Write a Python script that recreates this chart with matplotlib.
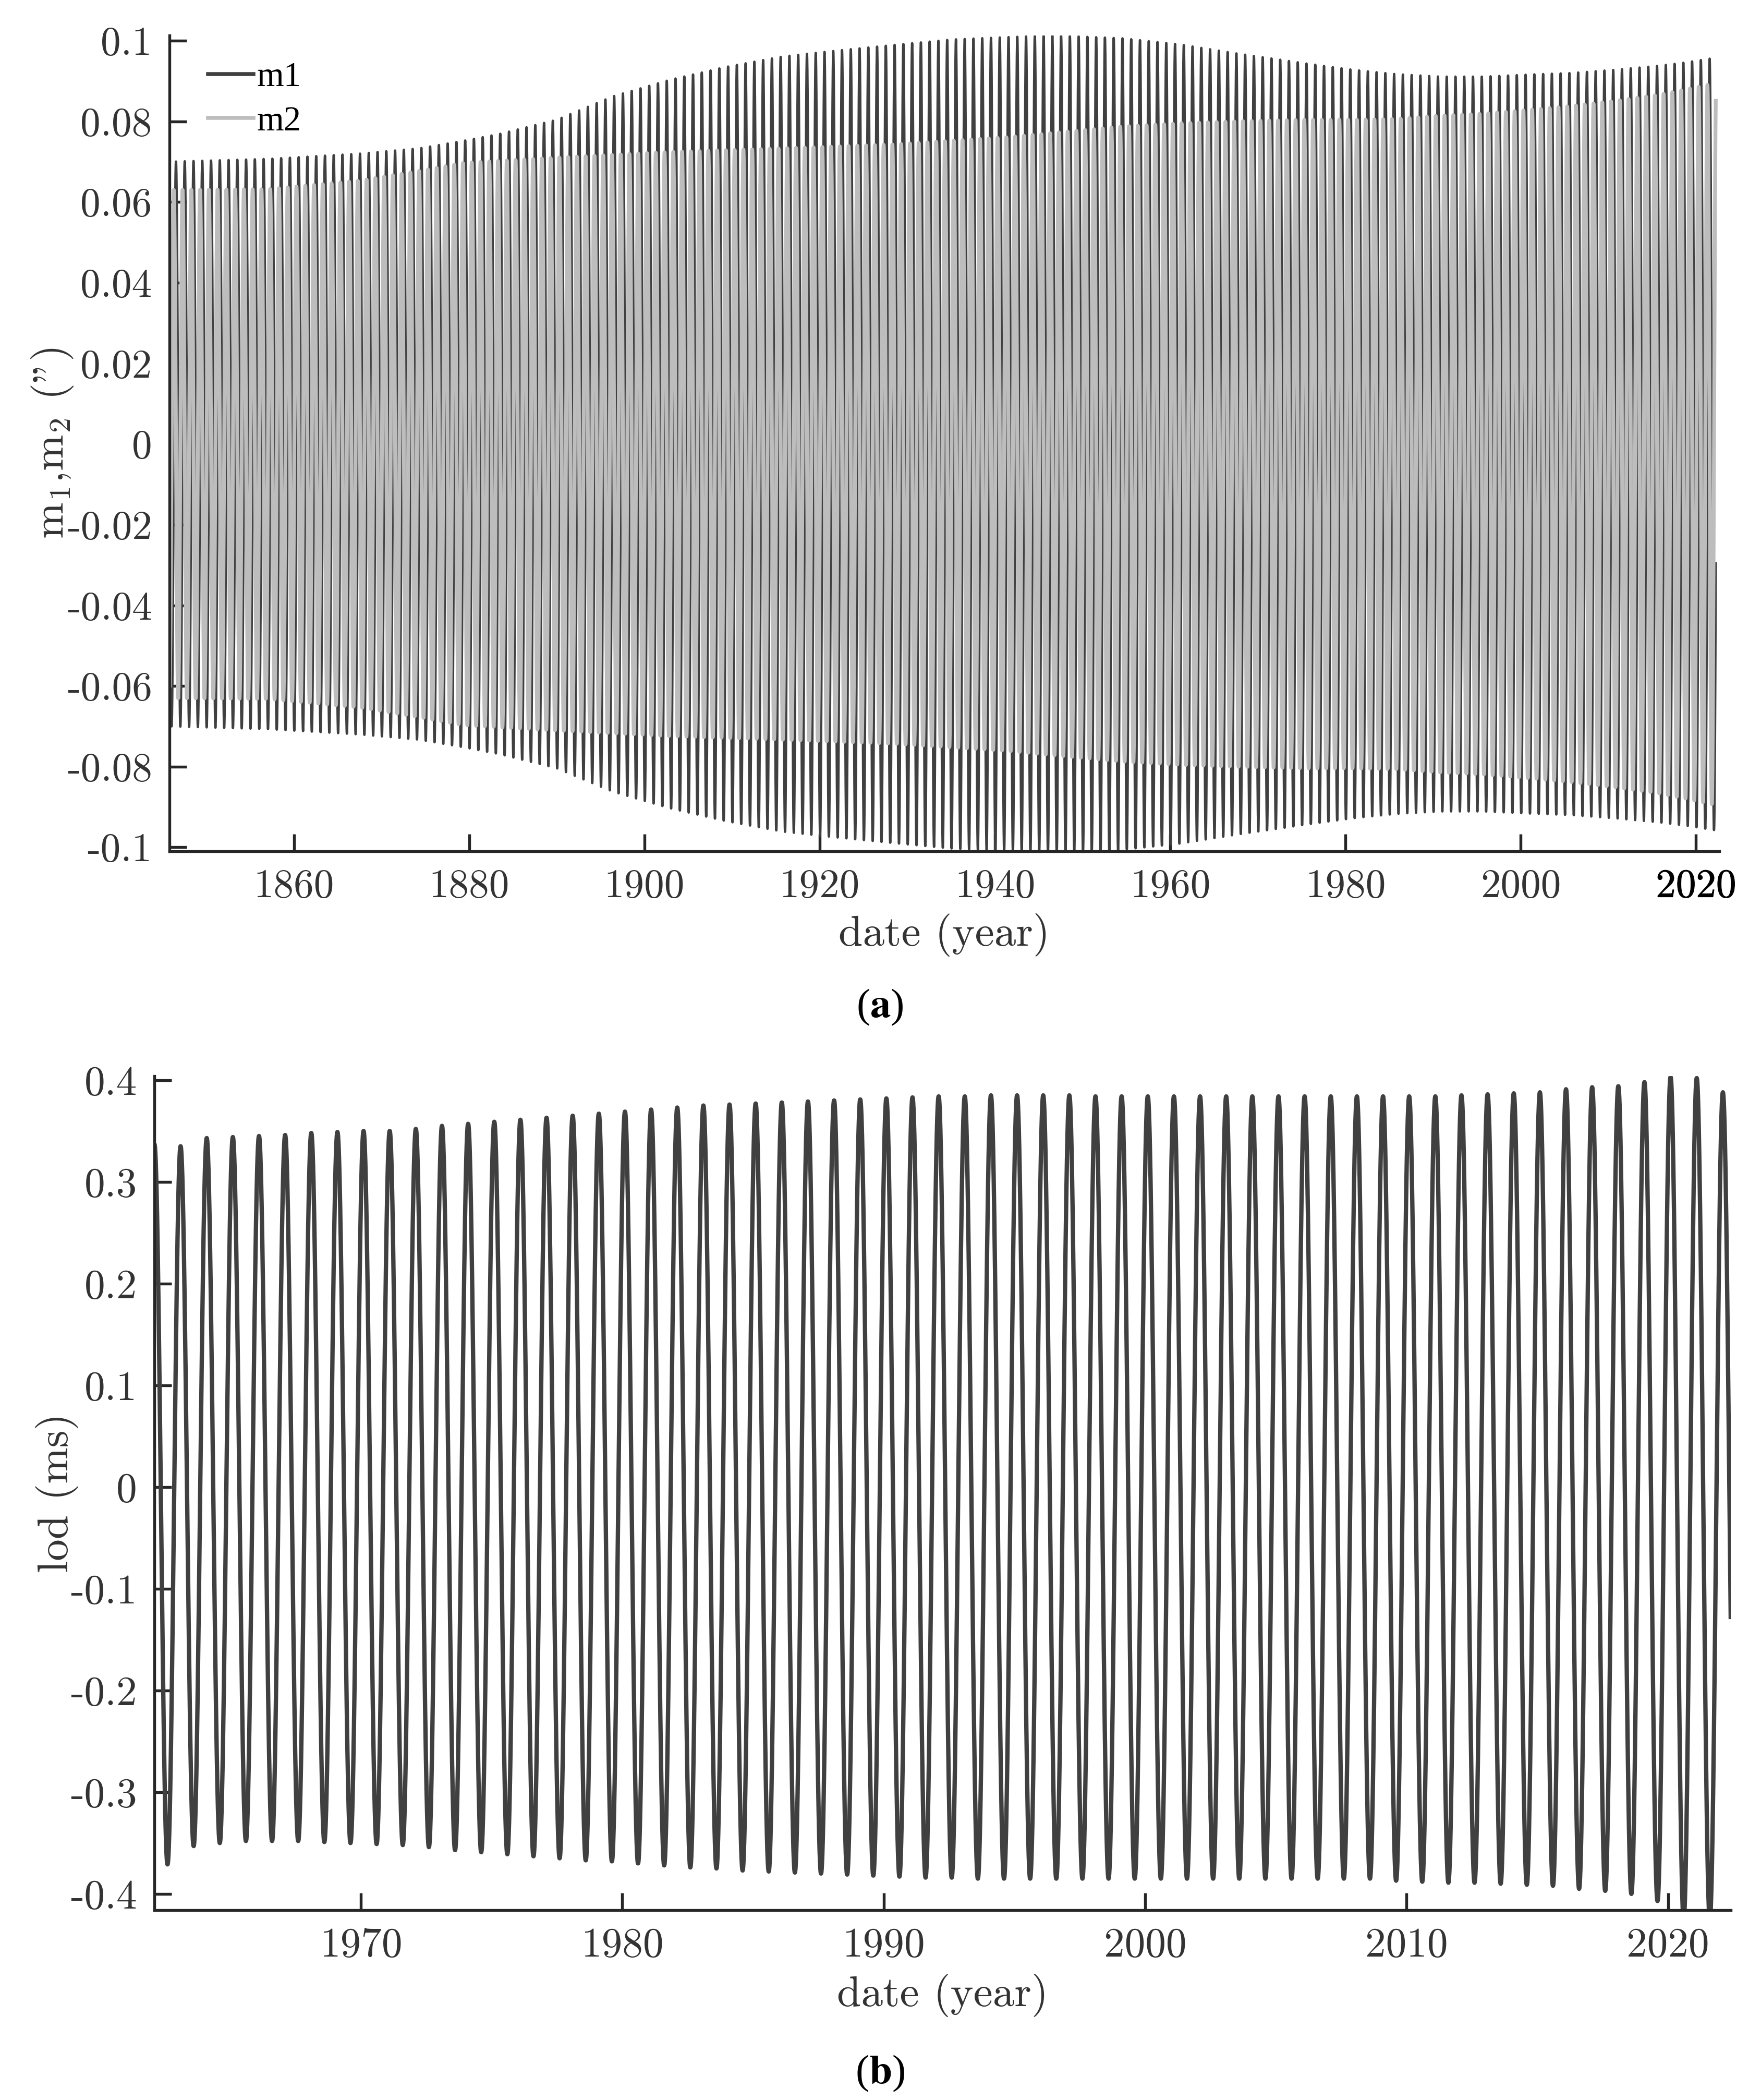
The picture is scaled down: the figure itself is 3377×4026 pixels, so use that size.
import numpy as np
import matplotlib
matplotlib.use("Agg")
import matplotlib.pyplot as plt
from matplotlib.lines import Line2D
from matplotlib import patheffects

# ---------------- data ----------------
# Panel (a): annual polar-motion term, amplitude envelopes (arcsec)
m1_env_years = [1845.85, 1857.2, 1867.5, 1874.3, 1879.4, 1883.5, 1890.0, 1896.4,
                1902.9, 1909.3, 1915.8, 1922.2, 1928.7, 1935.1, 1941.6, 1946.8,
                1954.5, 1961.0, 1967.4, 1975.7, 1980.8, 1985.8, 1990.8, 1995.8,
                2000.8, 2005.8, 2010.8, 2015.8, 2018.8, 2022.3]
m1_env_amp = [0.0700, 0.0707, 0.0720, 0.0733, 0.0752, 0.0769, 0.0804, 0.0862,
              0.0903, 0.0935, 0.0961, 0.0976, 0.0990, 0.1003, 0.1009, 0.1013,
              0.1006, 0.0991, 0.0969, 0.0943, 0.0928, 0.0917, 0.0911, 0.0911,
              0.0916, 0.0920, 0.0928, 0.0938, 0.0946, 0.0958]
m2_env_years = [1845.85, 1857.2, 1867.5, 1874.3, 1879.4, 1890.0, 1902.9, 1915.8,
                1928.7, 1941.6, 1948.0, 1954.5, 1961.0, 1967.4, 1975.7, 1980.8,
                1985.8, 1990.8, 1995.8, 2000.8, 2005.8, 2010.8, 2015.8, 2018.8,
                2022.3]
m2_env_amp = [0.0630, 0.0632, 0.0653, 0.0677, 0.0697, 0.0710, 0.0724, 0.0733,
              0.0743, 0.0761, 0.0774, 0.0787, 0.0795, 0.0800, 0.0804, 0.0804,
              0.0806, 0.0814, 0.0819, 0.0828, 0.0838, 0.0851, 0.0866, 0.0879,
              0.0895]
m_period_years = 1.0          # one cycle per year
m1_peak_phase = 0.55          # fraction of year at which m1 peaks
m2_peak_phase = 0.30          # fraction of year at which m2 peaks
m_start, m_end = 1845.85, 2022.25

# Panel (b): annual LOD term, yearly maxima (at year+0.1) and minima (at year+0.6), ms
lod_max_years = [1962.1 + k for k in range(61)]
lod_max = [0.337, 0.335, 0.343, 0.344, 0.345, 0.346, 0.348, 0.349, 0.350, 0.350,
           0.352, 0.355, 0.357, 0.359, 0.361, 0.363, 0.365, 0.367, 0.369, 0.371,
           0.373, 0.375, 0.376, 0.377, 0.378, 0.379, 0.380, 0.381, 0.382, 0.383,
           0.384, 0.384, 0.385, 0.385, 0.385, 0.385, 0.384, 0.384, 0.384, 0.384,
           0.384, 0.384, 0.384, 0.384, 0.384, 0.384, 0.384, 0.384, 0.384, 0.384,
           0.385, 0.386, 0.387, 0.388, 0.391, 0.393, 0.394, 0.398, 0.403, 0.402,
           0.388]
lod_min_years = [1962.6 + k for k in range(61)]
lod_min = [-0.371, -0.353, -0.350, -0.348, -0.348, -0.348, -0.349, -0.350, -0.351, -0.352,
           -0.354, -0.357, -0.359, -0.361, -0.363, -0.365, -0.367, -0.368, -0.370, -0.372,
           -0.374, -0.375, -0.377, -0.378, -0.379, -0.380, -0.381, -0.382, -0.383, -0.384,
           -0.384, -0.385, -0.385, -0.385, -0.385, -0.385, -0.385, -0.385, -0.385, -0.385,
           -0.385, -0.385, -0.385, -0.385, -0.385, -0.385, -0.385, -0.387, -0.388, -0.389,
           -0.389, -0.390, -0.391, -0.392, -0.395, -0.397, -0.400, -0.407, -0.425, -0.425,
           -0.400]
lod_start, lod_end = 1962.1, 2022.4

top_xticks = [1860, 1880, 1900, 1920, 1940, 1960, 1980, 2000, 2020]
top_yticks = [0.1, 0.08, 0.06, 0.04, 0.02, 0, -0.02, -0.04, -0.06, -0.08, -0.1]
top_yticklabels = ["0.1", "0.08", "0.06", "0.04", "0.02", "0", "-0.02", "-0.04",
                   "-0.06", "-0.08", "-0.1"]
bot_xticks = [1970, 1980, 1990, 2000, 2010, 2020]
bot_yticks = [0.4, 0.3, 0.2, 0.1, 0, -0.1, -0.2, -0.3, -0.4]
bot_yticklabels = ["0.4", "0.3", "0.2", "0.1", "0", "-0.1", "-0.2", "-0.3", "-0.4"]

# ---------------- series construction ----------------
t_m = np.arange(m_start, m_end, 1.0 / 240)
a1 = np.interp(t_m, m1_env_years, m1_env_amp)
a2 = np.interp(t_m, m2_env_years, m2_env_amp)
m1 = a1 * np.cos(2 * np.pi * (t_m - m1_peak_phase) / m_period_years)
m2 = a2 * np.cos(2 * np.pi * (t_m - m2_peak_phase) / m_period_years)

# LOD: half-cycle cosine joining successive read extremes
ext_t = np.array(sorted(list(zip(lod_max_years, lod_max)) + list(zip(lod_min_years, lod_min))))
t_l = np.arange(lod_start, lod_end, 1.0 / 240)
idx = np.clip(np.searchsorted(ext_t[:, 0], t_l, side="right") - 1, 0, len(ext_t) - 2)
t0, v0 = ext_t[idx, 0], ext_t[idx, 1]
t1, v1 = ext_t[idx + 1, 0], ext_t[idx + 1, 1]
lod = (v0 + v1) / 2 + (v0 - v1) / 2 * np.cos(np.pi * (t_l - t0) / (t1 - t0))

# ---------------- styling ----------------
plt.rcParams["font.family"] = ["cmr10", "DejaVu Serif"]
plt.rcParams["mathtext.fontset"] = "cm"
plt.rcParams["axes.unicode_minus"] = False

DARK = "#404040"
GRAY = "#bdbdbd"
AX = "#262626"
TXT = "#333333"

fig = plt.figure(figsize=(3377 / 300, 4026 / 300), dpi=300)
ax1 = fig.add_axes([0.0962, 0.5946, 0.9763 - 0.0962, 0.9831 - 0.5946])
ax2 = fig.add_axes([0.0877, 0.0904, 0.9828 - 0.0877, 0.4876 - 0.0904])

def style(ax, fs):
    for s in ("top", "right"):
        ax.spines[s].set_visible(False)
    for s in ("left", "bottom"):
        ax.spines[s].set_linewidth(1.3)
        ax.spines[s].set_color(AX)
    ax.tick_params(direction="in", length=8, width=1.3, color=AX,
                   labelsize=fs, labelcolor=TXT, pad=8)

ax1.plot(t_m, m1, color=DARK, lw=1.1, label="m1")
ax1.plot(t_m, m2, color=GRAY, lw=1.75, label="m2")
ax1.set_xlim(1845.8, 2022.65)
ax1.set_ylim(-0.1010, 0.1013)
ax1.set_xticks(top_xticks)
ax1.set_xticklabels([str(v) for v in top_xticks])
ax1.set_yticks(top_yticks)
ax1.set_yticklabels(top_yticklabels)
style(ax1, 18.5)
last = ax1.get_xticklabels()[-1]
last.set_color("black")
last.set_path_effects([patheffects.withStroke(linewidth=0.25, foreground="black")])
ax1.set_xlabel("date (year)", fontsize=20, color=TXT, labelpad=4)
ax1.set_ylabel('m$_1$,m$_2$ (")', fontsize=20, color=TXT)
ax1.yaxis.set_label_coords(-0.061, 0.5)
handles = [Line2D([], [], color=DARK, lw=1.8), Line2D([], [], color=GRAY, lw=1.8)]
ax1.legend(handles, ["m1", "m2"], loc="upper left", bbox_to_anchor=(0.016, 0.985),
           frameon=False, prop={"family": "Liberation Serif", "size": 16},
           handlelength=1.3, handletextpad=0.1, labelspacing=0.35, borderaxespad=0)

ax2.plot(t_l, lod, color=DARK, lw=2.0)
ax2.set_xlim(1962.1, 2022.4)
ax2.set_ylim(-0.416, 0.404)
ax2.set_xticks(bot_xticks)
ax2.set_xticklabels([str(v) for v in bot_xticks])
ax2.set_yticks(bot_yticks)
ax2.set_yticklabels(bot_yticklabels)
style(ax2, 19)
ax2.set_xlabel("date (year)", fontsize=20, color=TXT, labelpad=4)
ax2.set_ylabel("lod (ms)", fontsize=20, color=TXT)
ax2.yaxis.set_label_coords(-0.048, 0.5)

for y, letter in ((0.5204, "a"), (0.0127, "b")):
    fig.text(0.4996, y, "(" + r"$\mathbf{" + letter + "}$" + ")", ha="center", va="center",
             fontsize=19, color="black", family="Liberation Serif", math_fontfamily="stix")

fig.savefig("out.png", dpi=300)
